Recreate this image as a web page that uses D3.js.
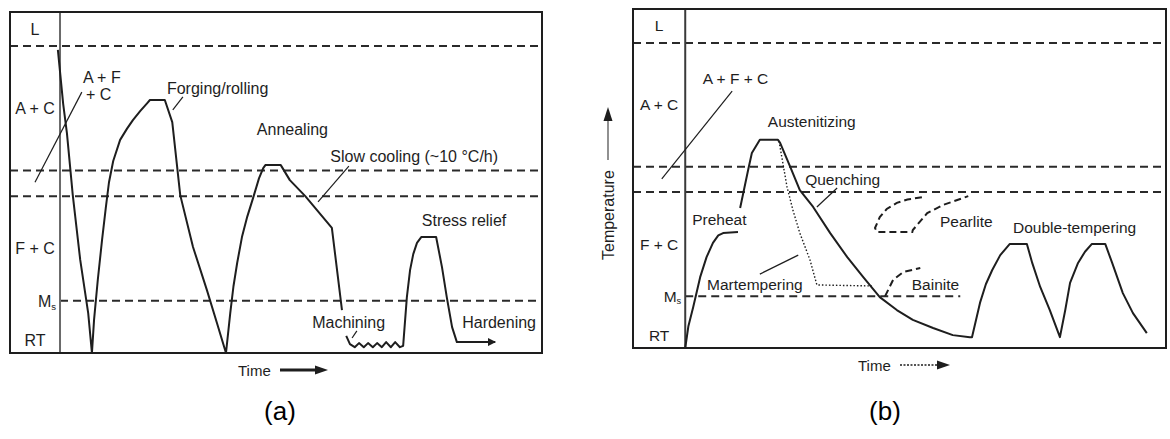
<!DOCTYPE html>
<html>
<head>
<meta charset="utf-8">
<script src="https://cdn.jsdelivr.net/npm/d3@7"></script>
<style>
  body { margin: 0; background: #fff; }
  svg { display: block; font-family: Arial, "Liberation Sans", Helvetica, sans-serif; }
</style>
</head>
<body>
<svg id="chart" width="1170" height="439"></svg>
<script>
// temperature scale of both panels: 0 = RT, 100 = top of frame; time 0..100
const levelTemps = [90, 53.5, 46, 15.3]          // L, upper critical, lower critical, Ms
const bandLabels = ['L', 'A + C', 'F + C', 'RT']
const bandTemps = [95, 71.8, 30.6, 3.6]

// (a) full processing sequence, null = break in the line
const curveA = [
  [9.0, 88.9], [10.0, 73.0], [10.7, 64.5], [11.8, 46.3], [13.2, 27.3], [14.7, 11.7], [15.4, 0],
  [15.8, 9.7], [16.5, 21.4], [17.3, 33.1], [18.0, 42.5], [18.6, 50.0], [19.4, 56.3], [20.7, 62.5],
  [22.0, 65.8], [23.1, 68.3], [24.5, 71.0], [25.8, 73.3], [26.3, 74.2], [29.1, 74.2], [30.5, 67.7], [32.0, 46.3],
  [34.4, 31.1], [37.0, 18.5], [38.9, 8.8], [40.6, 0],
  [41.4, 11.7], [42.0, 19.5], [42.7, 26.4], [43.6, 34.0], [44.6, 40.0], [45.7, 45.5], [46.8, 51.2], [47.6, 54.2], [48.0, 55.1],
  [50.9, 55.1], [52.6, 50.7], [55.5, 46.0], [60.5, 36.7], [62.4, 12.6],
  null,
  [63.2, 5.0], [63.9, 2.6], [64.8, 1.7], [65.6, 2.9], [66.5, 1.7], [67.3, 2.9], [68.2, 1.7],
  [69.0, 2.9], [69.9, 1.7], [70.7, 3.2], [71.6, 1.7], [72.4, 3.2], [73.3, 1.7], [73.9, 2.1],
  [74.6, 16.4], [75.2, 24.3], [75.8, 29.0], [76.5, 32.3], [77.3, 34.0], [80.1, 34.0], [81.2, 25.2],
  [82.1, 16.4], [83.1, 7.6], [84.0, 3.2], [91.2, 3.2]
]
const labelsA = [
  ['A + F', 13.7, 80.9], ['+ C', 14.3, 75.7], ['Forging/rolling', 29.5, 77.7],
  ['Annealing', 46.4, 65.4], ['Slow cooling (~10 °C/h)', 60.2, 57.5],
  ['Stress relief', 77.4, 39.0], ['Machining', 56.8, 8.8], ['Hardening', 85.0, 8.8]
]
const leadersA = [
  [[13.5, 76.5], [4.7, 50.1]], [[32.5, 75.1], [30.6, 71.3]],
  [[63.7, 54.8], [57.9, 44.3]], [[65.2, 6.5], [64.3, 4.4]]
]

// (b) hardening and tempering
const curveB = [
  [9.8, 0], [10.4, 6.5], [11.3, 12.1], [12.6, 20.9], [13.8, 26.8], [15.0, 31.0], [16.0, 33.2], [16.9, 33.9], [19.7, 34.2],
  null,
  [20.1, 41.3], [21.6, 52.5], [22.3, 57.5], [23.8, 61.4], [27.2, 61.4], [27.6, 60.5],
  [29.5, 53.4], [31.3, 46.6], [33.8, 41.6], [37.0, 33.9], [40.2, 26.8], [43.2, 20.9],
  [46.3, 15.0], [49.5, 11.2], [52.5, 8.3], [56.3, 5.9], [60.0, 3.8], [63.2, 3.2],
  [63.6, 3.2], [65.1, 13.3], [66.2, 18.8], [67.4, 23.0], [68.9, 27.4], [70.7, 30.7], [73.9, 30.7],
  [74.9, 25.1], [76.4, 18.0], [78.2, 11.2], [80.1, 3.2], [81.1, 11.2], [82.0, 19.2],
  [83.5, 25.1], [84.8, 28.4], [86.1, 30.7], [88.6, 30.7], [89.9, 25.1], [91.9, 16.2], [93.8, 10.3], [96.4, 4.4]
]
const martempering = [
  [27.4, 61.0], [28.9, 47.5], [30.0, 40.7], [31.3, 33.9], [33.2, 26.0], [34.5, 18.6], [44.8, 18.3]
]
const pearlite = [
  [54.2, 44.5], [51.5, 43.8], [49.5, 42.8], [47.6, 41.0], [46.3, 38.6], [45.4, 35.4], [45.8, 34.2], [52.4, 34.2],
  [52.5, 34.8], [55.2, 39.8], [58.2, 42.2], [62.9, 44.8]
]
const bainite = [[47.3, 15.3], [48.8, 20.1], [50.7, 22.4], [53.9, 23.6]]
const labelsB = [
  ['A + F + C', 13.1, 79.4], ['Austenitizing', 25.3, 66.7], ['Quenching', 32.3, 49.6],
  ['Preheat', 11.1, 37.8], ['Martempering', 13.9, 18.6], ['Pearlite', 57.6, 37.2],
  ['Bainite', 52.3, 18.6], ['Double-tempering', 71.3, 35.4]
]
const leadersB = [
  [[18.6, 75.8], [5.4, 49.9]], [[38.3, 47.2], [34.5, 41.6]], [[31.0, 27.4], [23.8, 21.8]]
]

const ink = '#1e1e1e'
const svg = d3.select('#chart')

svg.append('defs').append('marker')
  .attr('id', 'head')
  .attr('viewBox', '0 0 10 10')
  .attr('refX', 9).attr('refY', 5)
  .attr('markerWidth', 5).attr('markerHeight', 4)
  .attr('orient', 'auto')
  .append('path').attr('d', 'M0,0L10,5L0,10Z').attr('fill', ink)

function drawPanel(g, frame, p) {
  const x = d3.scaleLinear().domain([0, 100]).range([frame.left, frame.right])
  const y = d3.scaleLinear().domain([0, 100]).range([frame.bottom, frame.top])
  const line = d3.line().defined(d => d !== null).x(d => x(d[0])).y(d => y(d[1]))

  // dashed phase boundaries
  levelTemps.forEach((T, i) => {
    const isMs = i === 3
    g.append('line')
      .attr('x1', isMs ? x(p.inner) : x(0)).attr('x2', isMs ? x(p.msEnd) : x(100))
      .attr('y1', y(T)).attr('y2', y(T))
      .attr('stroke', '#2a2a2a').attr('stroke-width', 2)
      .attr('stroke-dasharray', '8,5')
  })

  g.append('line')
    .attr('x1', x(p.inner)).attr('x2', x(p.inner))
    .attr('y1', y(0)).attr('y2', y(100))
    .attr('stroke', p.innerColor).attr('stroke-width', 2)

  g.append('rect')
    .attr('x', x(0)).attr('y', y(100))
    .attr('width', x(100) - x(0)).attr('height', y(0) - y(100))
    .attr('fill', 'none').attr('stroke', ink).attr('stroke-width', 2)

  // phase names in the left column
  const colMid = x(p.inner / 2)
  bandLabels.forEach((name, i) => {
    g.append('text')
      .attr('x', colMid).attr('y', y(bandTemps[i]))
      .attr('text-anchor', 'middle').attr('dominant-baseline', 'central')
      .attr('font-size', p.fontSize).attr('fill', ink)
      .text(name)
  })
  const ms = g.append('text')
    .attr('x', x(p.inner) - 4).attr('y', y(levelTemps[3]))
    .attr('text-anchor', 'end').attr('dominant-baseline', 'central')
    .attr('font-size', p.fontSize).attr('fill', ink)
  ms.append('tspan').text('M')
  ms.append('tspan').attr('font-size', p.fontSize * 0.6).attr('dy', 5).text('s')

  p.extraPaths.forEach(e => {
    g.append('path')
      .attr('d', line(e.data))
      .attr('fill', 'none').attr('stroke', ink)
      .attr('stroke-width', e.width).attr('stroke-dasharray', e.dash)
  })

  g.append('path')
    .attr('d', line(p.curve))
    .attr('fill', 'none').attr('stroke', ink)
    .attr('stroke-width', 2).attr('stroke-linejoin', 'round')
    .attr('marker-end', p.arrowEnd ? 'url(#head)' : null)

  p.leaders.forEach(l => {
    g.append('path')
      .attr('d', line(l))
      .attr('fill', 'none').attr('stroke', ink).attr('stroke-width', 1.2)
  })

  p.labels.forEach(([txt, t, T]) => {
    g.append('text')
      .attr('x', x(t)).attr('y', y(T))
      .attr('dominant-baseline', 'central')
      .attr('font-size', p.fontSize).attr('fill', ink)
      .text(txt)
  })
  return { x, y }
}

const frameA = { left: 10, right: 542, top: 12, bottom: 353 }
const frameB = { left: 633, right: 1166, top: 9, bottom: 348 }

drawPanel(svg.append('g'), frameA, {
  inner: 9.4, msEnd: 100, innerColor: '#6a6a6a', fontSize: 16,
  curve: curveA, arrowEnd: true, labels: labelsA, leaders: leadersA, extraPaths: []
})

drawPanel(svg.append('g'), frameB, {
  inner: 9.8, msEnd: 61.4, innerColor: '#3a3a3a', fontSize: 15.5,
  curve: curveB, arrowEnd: false, labels: labelsB, leaders: leadersB,
  extraPaths: [
    { data: martempering, width: 1.4, dash: '1.5,2' },
    { data: pearlite, width: 2, dash: '7,4' },
    { data: bainite, width: 2, dash: '7,4' }
  ]
})

// time arrows under the frames
function timeArrow(x0, yy, shaftEnd, dash, width) {
  svg.append('text')
    .attr('x', x0).attr('y', yy)
    .attr('dominant-baseline', 'central')
    .attr('font-size', 15).attr('fill', ink)
    .text('Time')
  svg.append('line')
    .attr('x1', x0 + 42).attr('x2', shaftEnd - 10)
    .attr('y1', yy).attr('y2', yy)
    .attr('stroke', ink).attr('stroke-width', width)
    .attr('stroke-dasharray', dash)
  svg.append('path')
    .attr('d', `M${shaftEnd - 13},${yy - 4.5}L${shaftEnd},${yy}L${shaftEnd - 13},${yy + 4.5}Z`)
    .attr('fill', ink)
}
timeArrow(238, 370, 328, null, 3)
timeArrow(858, 365, 950, '2,1.5', 1.3)

// temperature axis label of (b)
svg.append('text')
  .attr('transform', 'translate(608,260) rotate(-90)')
  .attr('dominant-baseline', 'central')
  .attr('font-size', 16).attr('fill', ink)
  .text('Temperature')
svg.append('line')
  .attr('x1', 608).attr('x2', 608).attr('y1', 160).attr('y2', 118)
  .attr('stroke', '#555').attr('stroke-width', 1.3)
svg.append('path')
  .attr('d', 'M603.5,121L608,107L612.5,121Z')
  .attr('fill', ink)

// panel captions
const captions = ['(a)', '(b)']
const captionX = [280, 885]
captions.forEach((c, i) => {
  svg.append('text')
    .attr('x', captionX[i]).attr('y', 411)
    .attr('text-anchor', 'middle').attr('dominant-baseline', 'central')
    .attr('font-size', 26).attr('fill', '#000')
    .text(c)
})
</script>
</body>
</html>
